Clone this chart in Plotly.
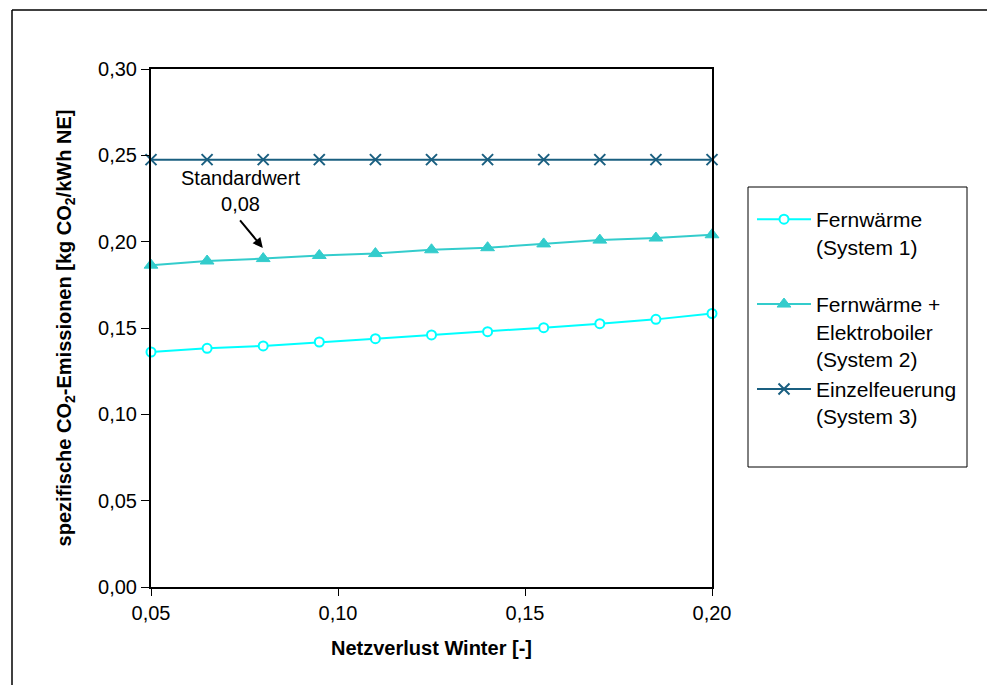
import plotly.graph_objects as go

netzverlust = [0.05, 0.065, 0.08, 0.095, 0.11, 0.125, 0.14, 0.155, 0.17, 0.185, 0.20]
fernwaerme = [0.1361, 0.1382, 0.1396, 0.1419, 0.1438, 0.1460, 0.1479, 0.1502, 0.1525, 0.1550, 0.1584]
fernwaerme_eb = [0.1864, 0.1888, 0.1902, 0.1920, 0.1931, 0.1953, 0.1965, 0.1987, 0.2009, 0.2021, 0.2040]
einzelfeuerung = [0.2475] * 11

names = ["Fernwärme<br>(System 1)<br> ",
         "Fernwärme +<br>Elektroboiler<br>(System 2)",
         "Einzelfeuerung<br>(System 3)"]

c1 = "#00FFFF"
c2 = "#33CCCC"
c3 = "#1A5F80"

# page has an 8px body margin; figure is sized to fit the window without scrolling
OFF = 8
W, H = 995 - OFF, 693 - 2 * OFF
L, T = 151 - OFF, 69 - OFF
pw, ph = 561, 518
R, B = W - L - pw, H - T - ph

def px(xp):
    return (xp - OFF - L) / pw

def py(yp):
    return 1 - (yp - OFF - T) / ph

fig = go.Figure()
fig.add_trace(go.Scatter(x=netzverlust, y=fernwaerme, name=names[0], mode="lines+markers",
                         legendgroup="a",
                         line=dict(color=c1, width=2),
                         marker=dict(symbol="circle", size=9, color="white",
                                     line=dict(color=c1, width=2)),
                         cliponaxis=False))
fig.add_trace(go.Scatter(x=netzverlust, y=fernwaerme_eb, name=names[1], mode="lines+markers",
                         legendgroup="b",
                         line=dict(color=c2, width=2),
                         marker=dict(symbol="triangle-up", size=12, color=c2,
                                     line=dict(color=c2, width=1)),
                         cliponaxis=False))
fig.add_trace(go.Scatter(x=netzverlust, y=einzelfeuerung, name=names[2], mode="lines+markers",
                         legendgroup="c",
                         line=dict(color=c3, width=2),
                         marker=dict(symbol="x-thin", size=11, color=c3,
                                     line=dict(color=c3, width=2)),
                         cliponaxis=False))

font = "Arial, Liberation Sans, sans-serif"

fig.update_layout(
    width=W, height=H,
    margin=dict(l=L, r=R, t=T, b=B),
    paper_bgcolor="white", plot_bgcolor="white",
    separators=",.",
    font=dict(family=font, size=20, color="black"),
    showlegend=True,
    legend=dict(x=px(752), y=py(199), xanchor="left", yanchor="top",
                bgcolor="rgba(0,0,0,0)", borderwidth=0,
                font=dict(family=font, size=21, color="black"),
                valign="top", tracegroupgap=4, itemwidth=54,
                traceorder="normal"),
    xaxis=dict(range=[0.05, 0.20], tickvals=[0.05, 0.10, 0.15, 0.20], tickformat=".2f",
               showgrid=False, zeroline=False, showline=True, linecolor="black", linewidth=2,
               mirror=True, ticks="outside", ticklen=7, tickwidth=1, tickcolor="black",
               tickfont=dict(size=20),
               title=dict(text="<b>Netzverlust Winter [-]</b>", font=dict(size=20), standoff=18)),
    yaxis=dict(range=[0, 0.30], dtick=0.05, tickformat=".2f",
               showgrid=False, zeroline=False, showline=True, linecolor="black", linewidth=2,
               mirror=True, ticks="outside", ticklen=8, tickwidth=1, tickcolor="black",
               tickfont=dict(size=20),
               title=dict(text="<b>spezifische CO<sub>2</sub>-Emissionen [kg CO<sub>2</sub>/kWh NE]</b>",
                          font=dict(size=20), standoff=21)),
    shapes=[
        dict(type="line", xref="paper", yref="paper", x0=px(12), x1=px(1010), y0=py(10), y1=py(10),
             line=dict(color="black", width=1.5), layer="below"),
        dict(type="line", xref="paper", yref="paper", x0=px(12), x1=px(12), y0=py(10), y1=py(710),
             line=dict(color="black", width=1.5), layer="below"),
        dict(type="rect", xref="paper", yref="paper", x0=px(748), x1=px(967), y0=py(187), y1=py(467),
             line=dict(color="black", width=1), fillcolor="rgba(0,0,0,0)"),
    ],
    annotations=[
        dict(x=0.0799, y=0.1964, xref="x", yref="y", ax=-24, ay=-29, text="",
             showarrow=True, arrowhead=2, arrowsize=1, arrowwidth=2, arrowcolor="black"),
        dict(x=0.074, y=0.2293, xref="x", yref="y", text="Standardwert<br>0,08",
             showarrow=False, font=dict(size=20), align="center"),
    ],
)

fig.write_html("out.html")
